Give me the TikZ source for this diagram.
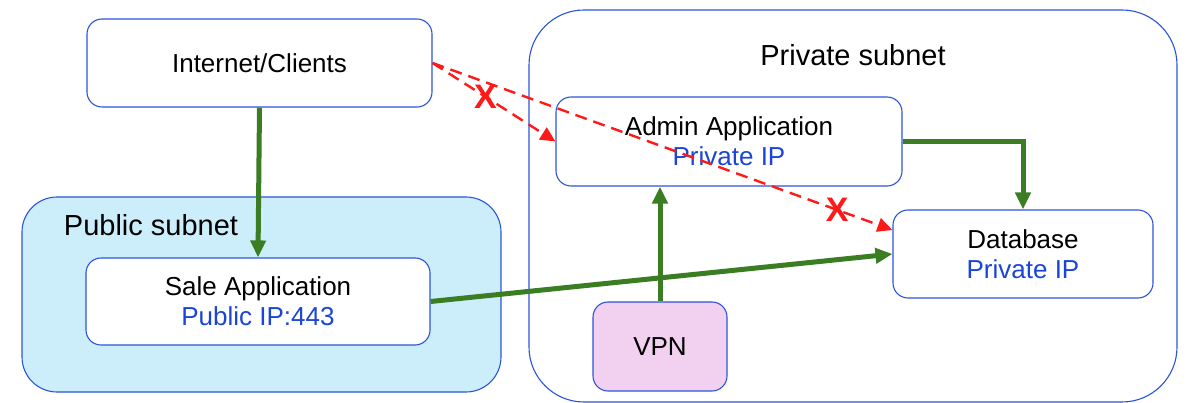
\documentclass[tikz,border=0pt]{standalone}
\usepackage{fontspec}
\setmainfont{Liberation Sans}
\usetikzlibrary{arrows.meta,calc}
\definecolor{edgeblue}{HTML}{2B55D9}
\definecolor{pubfill}{HTML}{CCEEFB}
\definecolor{vpnfill}{HTML}{F2D0EF}
\definecolor{flowgreen}{HTML}{3A7D22}
\definecolor{iptext}{HTML}{1B45D6}
\definecolor{blocked}{HTML}{FF1A1A}
\begin{document}
\begin{tikzpicture}[x=1pt,y=-1pt,
  box/.style={draw=edgeblue, line width=1.1pt, rounded corners=15pt, fill=white,
    align=center, inner sep=0pt, font=\fontsize{26}{32}\selectfont},
  subnet/.style={draw=edgeblue, line width=1.1pt, inner sep=0pt},
  subnetlabel/.style={font=\fontsize{29}{32}\selectfont, inner sep=0pt},
  flow/.style={draw=flowgreen, line width=5pt,
    -{Triangle[length=17pt,width=15pt]}},
  deny/.style={draw=blocked, line width=2.4pt, dash pattern=on 12pt off 7pt,
    -{Triangle[length=15pt,width=14pt]}},
  cross/.style={text=blocked, font=\fontsize{34}{34}\selectfont\bfseries,
    inner sep=0pt}
]
\useasboundingbox (0,0) rectangle (1189,403);

% subnets
\node[subnet, rounded corners=55pt, minimum width=648pt, minimum height=392pt]
  (private) at (853,206) {};
\node[subnet, fill=pubfill, rounded corners=35pt, minimum width=479pt, minimum height=195pt]
  (public) at (261.5,294.5) {};
\node[subnetlabel] (privatelabel) at (853,55) {Private subnet};
\node[subnetlabel] (publiclabel) at (151,225) {Public subnet};

% hosts
\node[box, minimum width=345pt, minimum height=88pt] (internet) at (259.5,63)
  {\raisebox{-3pt}{Internet/Clients}};
\node[box, minimum width=344pt, minimum height=87pt] (sale) at (258,301.5)
  {Sale Application\\[-2pt]\textcolor{iptext}{Public IP:443}};
\node[box, minimum width=346pt, minimum height=89pt] (admin) at (729,141.5)
  {Admin Application\\[-2pt]\textcolor{iptext}{Private IP}};
\node[box, minimum width=260pt, minimum height=88pt] (db) at (1023,254)
  {Database\\[-2pt]\textcolor{iptext}{Private IP}};
\node[box, fill=vpnfill, minimum width=134pt, minimum height=89pt] (vpn) at (660,346.5) {VPN};

% allowed traffic
\draw[flow] (internet.south) -- (sale.north);
\draw[flow] (sale.east) -- (db.west);
\draw[flow] (admin.east) -| (db.north);
\draw[flow] (vpn.north) -- (vpn.north |- admin.south);

% blocked traffic
\coordinate (dbin) at ($(db.west)+(0,-24)$);
\draw[deny] (internet.east) -- node[cross, pos=0.43] (x1) {X} (admin.west);
\draw[deny] (internet.east) -- node[cross, pos=0.88] (x2) {X} (dbin);
\end{tikzpicture}
\end{document}
